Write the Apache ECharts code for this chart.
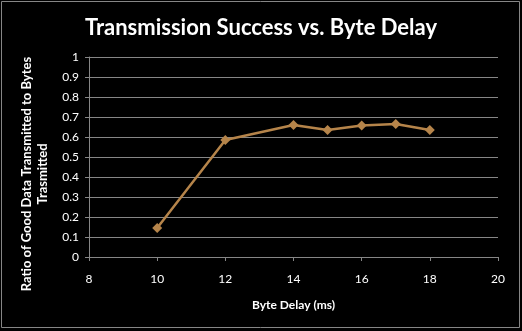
<!DOCTYPE html>
<html>
<head>
<meta charset="utf-8">
<script src="https://cdn.jsdelivr.net/npm/echarts@6/dist/echarts.min.js"></script>
<style>
  html, body { margin: 0; padding: 0; background: #000; }
  #chart { width: 522px; height: 331px; }
</style>
</head>
<body>
<div id="chart"></div>
<script>
// Byte delay (ms) and the ratio of good data transmitted to bytes transmitted
const byteDelay = [10, 12, 14, 15, 16, 17, 18];
const successRatio = [0.145, 0.585, 0.66, 0.635, 0.657, 0.665, 0.635];

const xTicks = { min: 8, max: 20, interval: 2 };
const yTicks = { min: 0, max: 1, interval: 0.1 };

const FONT = 'Lato';
const GRID_GRAY = '#868686';
const LINE_COLOR = '#B5844A';

const chart = echarts.init(document.getElementById('chart'), null, { renderer: 'canvas' });

chart.setOption({
  backgroundColor: '#000',
  animation: false,
  graphic: [{
    type: 'rect',
    shape: { x: 1.5, y: 1.5, width: 518, height: 326 },
    style: { fill: 'none', stroke: GRID_GRAY, lineWidth: 1 },
    silent: true
  }, {
    // Rotated y-axis title, sitting a little below the plot's vertical centre
    type: 'text',
    x: 35,
    y: 174,
    rotation: Math.PI / 2,
    silent: true,
    style: {
      text: 'Ratio of Good Data Transmitted to Bytes\nTrasmitted',
      fill: '#fff',
      font: 'bold 13px Lato',
      lineHeight: 16,
      align: 'center',
      verticalAlign: 'middle'
    }
  }],
  title: {
    text: 'Transmission Success vs. Byte Delay',
    left: 'center',
    top: 12,
    textStyle: { color: '#fff', fontFamily: FONT, fontWeight: 'bold', fontSize: 22 }
  },
  grid: { left: 89, right: 24, top: 57, bottom: 74, containLabel: false },
  xAxis: {
    type: 'value',
    min: xTicks.min, max: xTicks.max, interval: xTicks.interval,
    name: 'Byte Delay (ms)',
    nameLocation: 'middle',
    nameGap: 42,
    nameTextStyle: { color: '#fff', fontFamily: FONT, fontWeight: 'bold', fontSize: 12 },
    axisLine: { show: true, lineStyle: { color: GRID_GRAY, width: 1 } },
    axisTick: { show: true, inside: false, length: 4, lineStyle: { color: GRID_GRAY } },
    axisLabel: { color: '#fff', fontFamily: FONT, fontSize: 12, margin: 16 },
    splitLine: { show: false }
  },
  yAxis: {
    type: 'value',
    min: yTicks.min, max: yTicks.max, interval: yTicks.interval,
    axisLine: { show: true, lineStyle: { color: GRID_GRAY, width: 1 } },
    axisTick: { show: true, inside: false, length: 4, lineStyle: { color: GRID_GRAY } },
    axisLabel: { color: '#fff', fontFamily: FONT, fontSize: 12, margin: 10 },
    splitLine: { show: true, lineStyle: { color: GRID_GRAY, width: 1 } }
  },
  series: [{
    type: 'line',
    data: byteDelay.map((x, i) => [x, successRatio[i]]),
    symbol: 'diamond',
    symbolSize: 10,
    lineStyle: { color: LINE_COLOR, width: 2.5 },
    itemStyle: { color: LINE_COLOR },
    z: 5
  }]
});
</script>
</body>
</html>
